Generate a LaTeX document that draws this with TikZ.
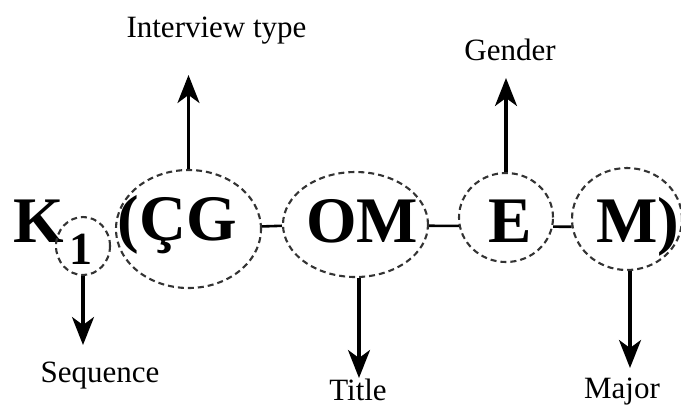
\documentclass[tikz,border=0pt]{standalone}
\usepackage{fontspec}
\setmainfont{Liberation Serif}
\usetikzlibrary{arrows.meta,shapes.geometric}
\begin{document}
\begin{tikzpicture}[x=1bp,y=-1bp,
  ring/.style={ellipse, draw=black!80, line width=2.1bp, dash pattern=on 6bp off 4bp, inner sep=0pt},
  big/.style={font=\fontsize{65bp}{65bp}\selectfont\bfseries, anchor=base, inner sep=0pt},
  sub/.style={font=\fontsize{46bp}{46bp}\selectfont\bfseries, anchor=base, inner sep=0pt},
  lab/.style={font=\fontsize{31bp}{31bp}\selectfont, anchor=base, inner sep=0pt},
  arr/.style={line width=3.2bp, -{Stealth[length=28bp,width=22bp,inset=8bp]}},
  link/.style={line width=2.6bp}]
\useasboundingbox (0,0) rectangle (681,407);

% big letters
\node[big] (tk) at (38.5,242) {K};
\node[sub] (t1) at (81,264) {1};
\node[big] (tcg) at (177,240) {(ÇG};
\node[big] (tom) at (362,242) {OM};
\node[big] (te) at (510,242) {E};
\node[big] (tm) at (638,242) {M)};

% dashed rings
\node[ring, minimum width=54bp, minimum height=58bp] (s1) at (83,246) {};
\node[ring, minimum width=145bp, minimum height=118bp] (cg) at (188.5,229) {};
\node[ring, minimum width=145bp, minimum height=105bp] (om) at (355.5,224.5) {};
\node[ring, minimum width=94bp, minimum height=89bp] (e) at (506,217.5) {};
\node[ring, minimum width=110bp, minimum height=102bp] (m) at (627,219) {};

% links
\draw[link] (cg.2.4) -- (om.181.2);
\draw[link] (om.-1.2) -- (e.190);
\draw[link] (e.-11.5) -- (m.188.5);

% arrows
\coordinate (it) at (188.5,75);
\draw[arr] (cg.north) -- (it);
\coordinate (gt) at (506,78);
\draw[arr] (e.north) -- (gt);
\coordinate (sq) at (83,345);
\draw[arr] (s1.south) -- (sq);
\coordinate (tt) at (359,378);
\draw[arr] (tt |- om.south) -- (tt);
\coordinate (mt) at (630,368);
\draw[arr] (mt |- m.south) -- (mt);

% labels
\node[lab] (lit) at (216.5,37) {Interview type};
\node[lab] (lg) at (510,60) {Gender};
\node[lab] (ls) at (100,382) {Sequence};
\node[lab] (lt) at (358,400) {Title};
\node[lab] (lm) at (622,398) {Major};
\end{tikzpicture}
\end{document}
